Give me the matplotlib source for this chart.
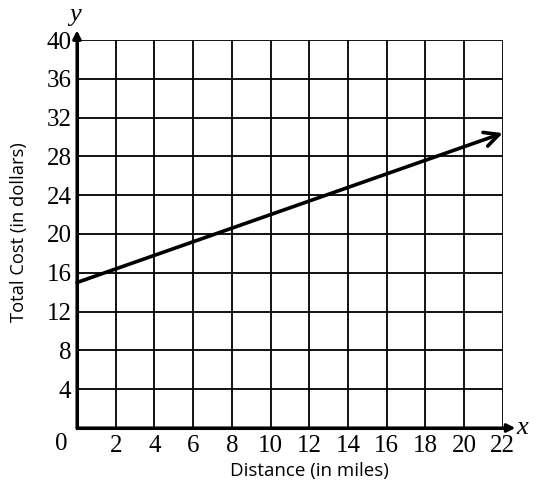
import numpy as np
import matplotlib
matplotlib.use("Agg")
import matplotlib.pyplot as plt

# data
line_x = [0, 22]
line_y = [15, 30.4]
x_ticks = [2, 4, 6, 8, 10, 12, 14, 16, 18, 20, 22]
y_ticks = [4, 8, 12, 16, 20, 24, 28, 32, 36, 40]

serif = "Liberation Serif"
sans = "Open Sans"

fig = plt.figure(figsize=(5.48, 4.88), dpi=100)
ax = fig.add_axes([0.1405, 0.123, 0.777, 0.795])
ax.set_xlim(0, 22)
ax.set_ylim(0, 40)

# grid
for gx in x_ticks:
    ax.axvline(gx, color="black", lw=1.3, zorder=1)
for gy in y_ticks:
    ax.axhline(gy, color="black", lw=1.3, zorder=1)

for s in ["top", "right"]:
    ax.spines[s].set_visible(False)
ax.spines["left"].set_linewidth(2.2)
ax.spines["bottom"].set_linewidth(2.2)

# axis arrows
ax.annotate("", xy=(22.65, 0), xytext=(0, 0), xycoords="data",
            arrowprops=dict(arrowstyle="-|>", color="black", lw=2.2, mutation_scale=12,
                            shrinkA=0, shrinkB=0),
            annotation_clip=False)
ax.annotate("", xy=(0, 41.0), xytext=(0, 0), xycoords="data",
            arrowprops=dict(arrowstyle="-|>", color="black", lw=2.2, mutation_scale=12,
                            shrinkA=0, shrinkB=0),
            annotation_clip=False)

# the cost line
ax.annotate("", xy=(line_x[1], line_y[1]), xytext=(line_x[0], line_y[0]),
            arrowprops=dict(arrowstyle="->", color="black", lw=2.6, mutation_scale=26,
                            shrinkA=0, shrinkB=0),
            annotation_clip=False, zorder=3)

ax.set_xticks(x_ticks)
ax.set_yticks(y_ticks)
ax.tick_params(axis="x", length=0, pad=5)
ax.tick_params(axis="y", length=0, pad=4)
ax.set_xticklabels([str(t) for t in x_ticks], family=serif, fontsize=18)
ax.set_yticklabels([str(t) for t in y_ticks], family=serif, fontsize=18)
ax.text(-0.037, -0.012, "0", transform=ax.transAxes, ha="center", va="top",
        family=serif, fontsize=18)

ax.text(1.045, 0.0, "x", transform=ax.transAxes, ha="center", va="center",
        family=serif, style="italic", fontsize=19)
ax.text(-0.005, 1.065, "y", transform=ax.transAxes, ha="center", va="center",
        family=serif, style="italic", fontsize=19)

ax.set_xlabel("Distance (in miles)", family=sans, fontsize=13.5)
ax.set_ylabel("Total Cost (in dollars)", family=sans, fontsize=13.2)
ax.xaxis.set_label_coords(0.545, -0.088)
ax.yaxis.set_label_coords(-0.115, 0.505)

fig.savefig("out.png", dpi=100)
